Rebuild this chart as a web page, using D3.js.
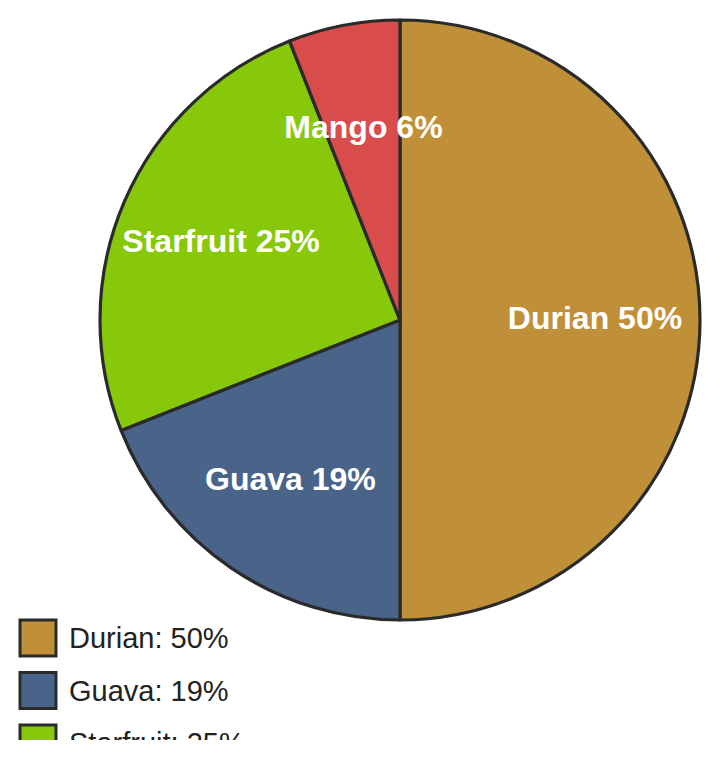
<!DOCTYPE html>
<html>
<head>
<meta charset="utf-8">
<script src="https://cdn.jsdelivr.net/npm/d3@7"></script>
<style>
  body { margin: 0; background: #fff; }
  svg { display: block; overflow: hidden; }
</style>
</head>
<body>
<svg id="chart"></svg>
<script>
const fruits = ["Durian", "Guava", "Starfruit", "Mango"];
const shares = [50, 19, 25, 6];
const fruitColors = ["#bf9038", "#4a6489", "#88c80a", "#d94c4c"];

document.addEventListener('DOMContentLoaded', function() {
  const width = 720;
  const height = 740;
  const radius = 300;
  const cx = 400, cy = 320;

  const data = fruits.map((f, i) => ({ name: f, value: shares[i] }));

  const svg = d3.select("#chart")
      .attr("width", width)
      .attr("height", height);

  const g = svg.append("g")
      .attr("transform", `translate(${cx},${cy})`);

  const color = d3.scaleOrdinal().domain(fruits).range(fruitColors);

  const pie = d3.pie().value(d => d.value).sort(null);
  const arc = d3.arc().innerRadius(0).outerRadius(radius);
  const labelArc = d3.arc().innerRadius(radius * 0.65).outerRadius(radius * 0.65);

  const arcs = pie(data);

  g.selectAll("path.slice")
      .data(arcs)
    .enter().append("path")
      .attr("class", "slice")
      .attr("d", arc)
      .attr("fill", d => color(d.data.name))
      .attr("stroke", "#2a2a2a")
      .attr("stroke-width", 3.2)
      .attr("stroke-linejoin", "round");

  g.selectAll("text.label")
      .data(arcs)
    .enter().append("text")
      .attr("class", "label")
      .attr("transform", d => `translate(${labelArc.centroid(d)})`)
      .attr("dy", "-0.06em")
      .attr("text-anchor", "middle")
      .attr("dominant-baseline", "central")
      .attr("font-family", "'Liberation Sans', Arial, sans-serif")
      .attr("font-weight", "bold")
      .attr("font-size", 32)
      .attr("fill", "#fff")
      .text(d => `${d.data.name} ${d.data.value}%`);

  // legend under the pie
  const legend = svg.append("g")
      .attr("transform", "translate(20,620)");

  const item = legend.selectAll("g.item")
      .data(data)
    .enter().append("g")
      .attr("class", "item")
      .attr("transform", (d, i) => `translate(0,${i * 52.5})`);

  item.append("rect")
      .attr("width", 36)
      .attr("height", 36)
      .attr("fill", d => color(d.name))
      .attr("stroke", "#2a2a2a")
      .attr("stroke-width", 3);

  item.append("text")
      .attr("x", 49)
      .attr("y", 18)
      .attr("dominant-baseline", "central")
      .attr("font-family", "'Liberation Sans', Arial, sans-serif")
      .attr("font-size", 29)
      .attr("fill", "#222")
      .text(d => `${d.name}: ${d.value}%`);
});
</script>
</body>
</html>
